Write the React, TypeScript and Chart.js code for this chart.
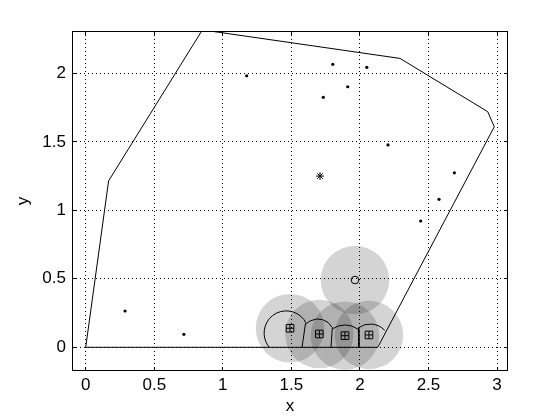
import React, { useEffect, useRef } from 'react';
import { Chart, registerables } from 'chart.js';

Chart.register(...registerables);

// Axis ranges and tick labels
const xTicks = [0, 0.5, 1, 1.5, 2, 2.5, 3];
const yTicks = [0, 0.5, 1, 1.5, 2];
const xMin = -0.1;
const xMax = 3.08;
const yMin = -0.173;
const yMax = 2.309;

// Outer polygon (closed)
const hullX = [0, 0.167, 0.851, 2.292, 2.932, 2.98, 2.13, 0];
const hullY = [0, 1.215, 2.317, 2.109, 1.72, 1.61, 0, 0];

// Small black points
const dotX = [0.287, 0.716, 1.174, 1.802, 2.05, 1.911, 1.733, 2.205, 2.577, 2.689, 2.443];
const dotY = [0.265, 0.095, 1.982, 2.066, 2.044, 1.902, 1.825, 1.477, 1.08, 1.274, 0.922];

// Asterisk marker
const starX = [1.709];
const starY = [1.25];

// Open circle marker
const ringX = [1.964];
const ringY = [0.491];

// Boxed-plus markers
const boxX = [1.49, 1.704, 1.891, 2.066];
const boxY = [0.139, 0.097, 0.085, 0.09];

// Translucent grey discs (centres and radius in data units)
const discX = [1.49, 1.704, 1.891, 2.066, 1.964];
const discY = [0.139, 0.097, 0.085, 0.09, 0.491];
const discR = 0.25;

// Black arcs (centre, radius in data units, angle range in degrees, counter-clockwise)
const arcCx = [1.463, 1.694, 1.891, 2.074];
const arcCy = [0.104, 0.09, 0.002, 0.024];
const arcR = [0.162, 0.117, 0.161, 0.146];
const arcFrom = [26.7, 28.3, 54.6, 42.9];
const arcTo = [219.7, 136.9, 122.8, 126.7];

// Separator segments between arcs
const sepX0 = [1.603, 1.799, 1.988];
const sepY0 = [0.175, 0.146, 0.139];
const sepX1 = [1.578, 1.789, 1.993];
const sepY1 = [0, 0, 0];

const FONT = '"Liberation Sans", Arial, Helvetica, sans-serif';

const zip = (xs: number[], ys: number[]) => xs.map((x, i) => ({ x, y: ys[i] }));

const align = (p: number) => Math.round(p - 0.5) + 0.5;

const decorPlugin = {
  id: 'decor',
  beforeDatasetsDraw(chart: any) {
    const { ctx, chartArea: a, scales } = chart;
    const xs = scales.x;
    const ys = scales.y;
    ctx.save();
    ctx.beginPath();
    ctx.rect(a.left, a.top, a.right - a.left, a.bottom - a.top);
    ctx.clip();
    ctx.fillStyle = 'rgba(0,0,0,0.17)';
    const r = Math.abs(ys.getPixelForValue(discR) - ys.getPixelForValue(0));
    discX.forEach((cx, i) => {
      ctx.beginPath();
      ctx.arc(xs.getPixelForValue(cx), ys.getPixelForValue(discY[i]), r, 0, Math.PI * 2);
      ctx.fill();
    });
    ctx.restore();
  },
  afterDatasetsDraw(chart: any) {
    const { ctx, scales } = chart;
    const xs = scales.x;
    const ys = scales.y;
    ctx.save();
    ctx.strokeStyle = '#000';
    ctx.lineWidth = 1;
    arcCx.forEach((cx, i) => {
      const r = Math.abs(ys.getPixelForValue(arcR[i]) - ys.getPixelForValue(0));
      ctx.beginPath();
      ctx.arc(
        xs.getPixelForValue(cx),
        ys.getPixelForValue(arcCy[i]),
        r,
        (-arcFrom[i] * Math.PI) / 180,
        (-arcTo[i] * Math.PI) / 180,
        true
      );
      ctx.stroke();
    });
    ctx.restore();
  },
  afterDraw(chart: any) {
    const { ctx, chartArea: a, scales } = chart;
    const xs = scales.x;
    const ys = scales.y;
    const tl = 4;
    ctx.save();
    ctx.strokeStyle = '#000';
    ctx.lineWidth = 1;
    ctx.beginPath();
    xTicks.forEach((v) => {
      const p = align(xs.getPixelForValue(v));
      ctx.moveTo(p, a.bottom);
      ctx.lineTo(p, a.bottom - tl);
      ctx.moveTo(p, a.top);
      ctx.lineTo(p, a.top + tl);
    });
    yTicks.forEach((v) => {
      const p = align(ys.getPixelForValue(v));
      ctx.moveTo(a.left, p);
      ctx.lineTo(a.left + tl, p);
      ctx.moveTo(a.right, p);
      ctx.lineTo(a.right - tl, p);
    });
    ctx.stroke();
    ctx.strokeRect(a.left + 0.5, a.top + 0.5, a.right - a.left - 1, a.bottom - a.top - 1);
    ctx.restore();
  },
};

export default function App() {
  const ref = useRef<HTMLCanvasElement | null>(null);

  useEffect(() => {
    if (!ref.current) return;
    const black = '#000';
    const sepSets = sepX0.map((x0, i) => ({
      data: [
        { x: x0, y: sepY0[i] },
        { x: sepX1[i], y: sepY1[i] },
      ],
      showLine: true,
      borderColor: black,
      borderWidth: 1,
      pointRadius: 0,
    }));
    const chart = new Chart(ref.current, {
      type: 'scatter',
      data: {
        datasets: [
          {
            data: zip(hullX, hullY),
            showLine: true,
            borderColor: black,
            borderWidth: 1,
            pointRadius: 0,
          },
          ...sepSets,
          {
            data: zip(dotX, dotY),
            pointRadius: 1.6,
            backgroundColor: black,
            borderWidth: 0,
          },
          {
            data: zip(starX, starY),
            pointStyle: 'star',
            pointRadius: 4,
            borderColor: black,
            borderWidth: 1,
            backgroundColor: 'transparent',
          },
          {
            data: zip(ringX, ringY),
            pointStyle: 'circle',
            pointRadius: 3.8,
            borderColor: black,
            borderWidth: 1,
            backgroundColor: 'transparent',
          },
          {
            data: zip(boxX, boxY),
            pointStyle: 'rect',
            pointRadius: 5.4,
            borderColor: black,
            borderWidth: 1,
            backgroundColor: 'transparent',
          },
          {
            data: zip(boxX, boxY),
            pointStyle: 'cross',
            pointRadius: 3.8,
            borderColor: black,
            borderWidth: 1,
          },
        ],
      },
      options: {
        animation: false,
        responsive: false,
        devicePixelRatio: 1,
        events: [],
        layout: { padding: { top: 31, right: 52, left: 0, bottom: 0 } },
        plugins: {
          legend: { display: false },
          tooltip: { enabled: false },
        },
        scales: {
          x: {
            type: 'linear',
            min: xMin,
            max: xMax,
            afterBuildTicks: (s: any) => {
              s.ticks = xTicks.map((value) => ({ value }));
            },
            afterFit: (s: any) => {
              s.height = 49;
            },
            ticks: {
              color: black,
              font: { family: FONT, size: 17 },
              padding: 4,
              maxRotation: 0,
              autoSkip: false,
              callback: (v: any) => String(v),
            },
            grid: { color: black, lineWidth: 1, drawTicks: false },
            border: { display: false, dash: [1, 3] },
            title: {
              display: true,
              text: 'x',
              color: black,
              font: { family: FONT, size: 17 },
              padding: { top: 0, bottom: 3 },
            },
          },
          y: {
            type: 'linear',
            min: yMin,
            max: yMax,
            afterBuildTicks: (s: any) => {
              s.ticks = yTicks.map((value) => ({ value }));
            },
            afterFit: (s: any) => {
              s.width = 72;
            },
            ticks: {
              color: black,
              font: { family: FONT, size: 17 },
              padding: 6,
              autoSkip: false,
              callback: (v: any) => String(v),
            },
            grid: { color: black, lineWidth: 1, drawTicks: false },
            border: { display: false, dash: [1, 3] },
            title: {
              display: true,
              text: 'y',
              color: black,
              font: { family: FONT, size: 17 },
              padding: { top: 13, bottom: 0 },
            },
          },
        },
      },
      plugins: [decorPlugin],
    } as any);
    return () => chart.destroy();
  }, []);

  return (
    <div style={{ position: 'fixed', left: 0, top: 0, width: 560, height: 420, background: '#fff' }}>
      <canvas ref={ref} width={560} height={420} style={{ display: 'block' }} />
    </div>
  );
}
